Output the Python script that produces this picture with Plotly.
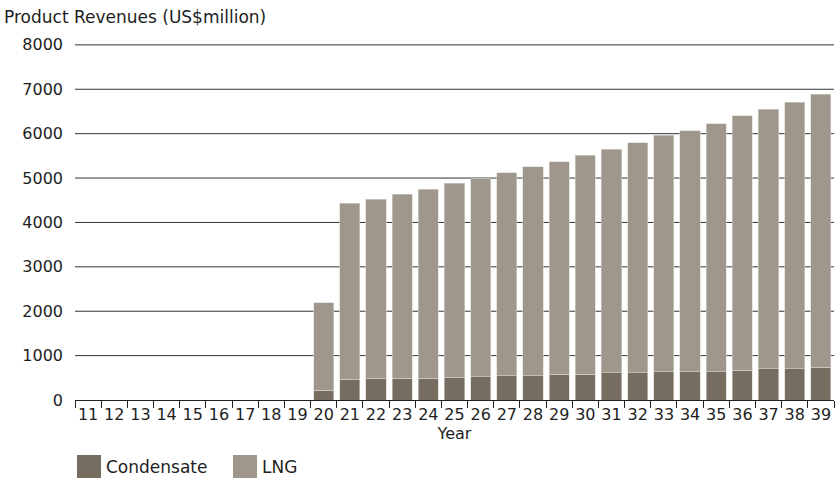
import plotly.graph_objects as go

# Product revenues by year, US$ million
years = [str(y) for y in range(11, 40)]
condensate = [0, 0, 0, 0, 0, 0, 0, 0, 0,
              225, 465, 490, 490, 495, 515, 520, 545, 548, 575,
              585, 612, 615, 635, 638, 640, 675, 705, 705, 740]
totals = [0, 0, 0, 0, 0, 0, 0, 0, 0,
          2190, 4430, 4520, 4640, 4750, 4880, 4985, 5125, 5250, 5370,
          5515, 5645, 5795, 5960, 6065, 6225, 6405, 6550, 6705, 6890]
lng = [t - c for t, c in zip(totals, condensate)]

y_ticks = [0, 1000, 2000, 3000, 4000, 5000, 6000, 7000, 8000]

COND_COLOR = "#766d61"
LNG_COLOR = "#9f978b"
FONT = "DejaVu Sans, Liberation Sans, Arial, sans-serif"
TEXT = "#1e1e1e"
GRID = "#333"

fig = go.Figure()
fig.add_trace(go.Bar(x=years, y=condensate, name="Condensate",
                     marker=dict(color=COND_COLOR, line=dict(color="#d9d5cf", width=0.6))))
fig.add_trace(go.Bar(x=years, y=lng, name="LNG",
                     marker=dict(color=LNG_COLOR, line=dict(color="#d9d5cf", width=0.6))))

fig.update_layout(
    barmode="stack",
    bargap=0.23,
    width=836, height=479,
    margin=dict(l=75, r=2, t=44, b=79),
    plot_bgcolor="white", paper_bgcolor="white",
    showlegend=False,
    font=dict(family=FONT, size=16, color=TEXT),
    xaxis=dict(
        type="category",
        tickson="boundaries",
        tickangle=0,
        ticks="outside", ticklen=7, tickcolor="#222", tickwidth=1,
        showline=True, linecolor="#222", linewidth=1,
        showgrid=False,
        tickfont=dict(size=16, color=TEXT),
        title=dict(text="Year", font=dict(size=16, color=TEXT), standoff=0),
    ),
    yaxis=dict(
        range=[0, 8020],
        tickvals=y_ticks,
        ticktext=[str(v) for v in y_ticks],
        showgrid=False,
        zeroline=False, showline=False,
        ticks="", ticklabelstandoff=11,
        tickfont=dict(size=16, color=TEXT),
    ),
)

# Horizontal gridlines behind the bars (the baseline is the x-axis line)
for v in y_ticks[1:]:
    fig.add_shape(type="line", xref="paper", yref="y", x0=0, x1=1, y0=v, y1=v,
                  line=dict(color=GRID, width=1), layer="below")

# Chart heading
plot_w, plot_h, left, top = 759, 356, 75, 44
fig.add_annotation(text="Product Revenues (US$million)", xref="paper", yref="paper",
                   x=-left / plot_w, y=1 + top / plot_h, xanchor="left", yanchor="top",
                   xshift=2, yshift=-5, showarrow=False, font=dict(size=17, color=TEXT))

# Legend with large square swatches below the axis
legend_items = [("Condensate", COND_COLOR, 77), ("LNG", LNG_COLOR, 233)]
for label, color, px in legend_items:
    x0 = (px - left) / plot_w
    x1 = (px + 24 - left) / plot_w
    y0 = 1 - (478 - top) / plot_h
    y1 = 1 - (455 - top) / plot_h
    fig.add_shape(type="rect", xref="paper", yref="paper", x0=x0, x1=x1, y0=y0, y1=y1,
                  fillcolor=color, line=dict(width=0))
    fig.add_annotation(text=label, xref="paper", yref="paper",
                       x=(px + 27 - left) / plot_w, y=(y0 + y1) / 2,
                       xanchor="left", yanchor="middle", showarrow=False,
                       font=dict(size=17, color=TEXT))

fig.write_html("out.html")
